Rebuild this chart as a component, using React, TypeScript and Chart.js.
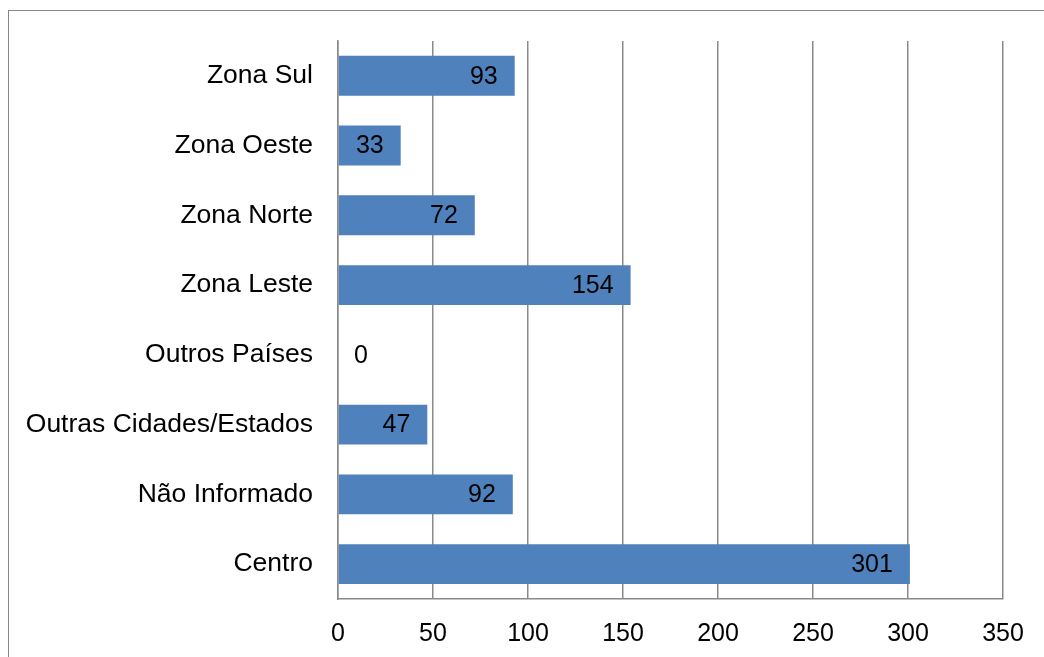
import React, { useEffect, useRef } from "react";
import { Chart, registerables } from "chart.js";

Chart.register(...registerables);

const categories = [
  "Zona Sul",
  "Zona Oeste",
  "Zona Norte",
  "Zona Leste",
  "Outros Países",
  "Outras Cidades/Estados",
  "Não Informado",
  "Centro",
];
const values = [93, 33, 72, 154, 0, 47, 92, 301];
const xTicks = [0, 50, 100, 150, 200, 250, 300, 350];

const FONT = "'Liberation Sans', Arial, sans-serif";
const GRID = "#8a8a8a";

const labelPlugin = {
  id: "insideEndLabels",
  afterDatasetsDraw(chart: any) {
    const ctx = chart.ctx;
    const meta = chart.getDatasetMeta(0);
    const xScale = chart.scales.x;
    const base = xScale.getPixelForValue(0);
    ctx.save();
    ctx.font = `25px ${FONT}`;
    ctx.fillStyle = "#000";
    ctx.textAlign = "right";
    ctx.textBaseline = "middle";
    meta.data.forEach((bar: any, i: number) => {
      const txt = String(values[i]);
      const w = ctx.measureText(txt).width;
      const x = Math.max(bar.x - 17, base + 16 + w);
      ctx.fillText(txt, x, bar.y + 1);
    });
    ctx.restore();
  },
};

export default function App() {
  const ref = useRef<HTMLCanvasElement | null>(null);
  useEffect(() => {
    if (!ref.current) return;
    const chart = new Chart(ref.current, {
      type: "bar",
      data: {
        labels: categories,
        datasets: [
          {
            data: values,
            backgroundColor: "#4F81BD",
            borderWidth: 0,
            barPercentage: 40 / 70,
            categoryPercentage: 1,
          },
        ],
      },
      options: {
        indexAxis: "y",
        responsive: false,
        animation: false,
        layout: { padding: { left: 0, right: 41, top: 39, bottom: 0 } },
        plugins: {
          legend: { display: false },
          tooltip: { enabled: false },
        },
        scales: {
          x: {
            min: 0,
            max: 350,
            afterBuildTicks: (scale: any) => {
              scale.ticks = xTicks.map((v) => ({ value: v }));
            },
            afterFit: (scale: any) => {
              scale.height = 58;
            },
            grid: {
              color: GRID,
              lineWidth: 1.5,
              drawTicks: false,
            },
            border: { display: true, color: GRID, width: 1.5 },
            ticks: {
              padding: 20,
              color: "#000",
              font: { family: FONT, size: 25 },
            },
          },
          y: {
            afterFit: (scale: any) => {
              scale.width = 338;
            },
            grid: { display: false, drawTicks: false },
            border: { display: true, color: GRID, width: 1.5 },
            ticks: {
              padding: 25,
              color: "#000",
              font: { family: FONT, size: 26.5 },
            },
          },
        },
      },
      plugins: [labelPlugin],
    });
    return () => chart.destroy();
  }, []);

  return (
    <div>
      <div
        style={{
          position: "fixed",
          left: 8,
          top: 10,
          width: 1060,
          height: 680,
          border: "1.5px solid #878787",
          boxSizing: "border-box",
        }}
      />
      <canvas
        ref={ref}
        width={1044}
        height={657}
        style={{ position: "fixed", left: 0, top: 0, width: 1044, height: 657 }}
      />
    </div>
  );
}
